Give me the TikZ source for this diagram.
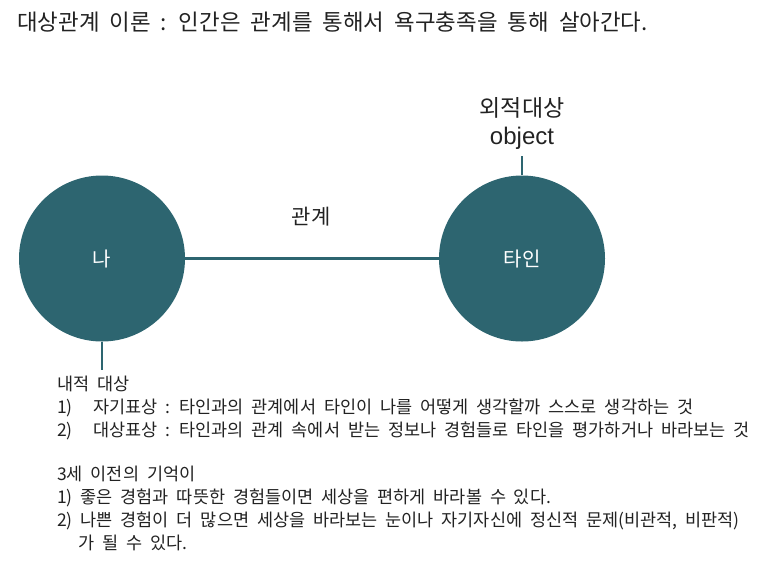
\documentclass[tikz,border=0pt]{standalone}
\usepackage{fontspec}
\setmainfont{Noto Sans CJK KR}
\newfontfamily\latinfont{Liberation Sans}
\definecolor{ink}{HTML}{222222}
\definecolor{slate}{HTML}{2D6570}
\newcommand{\widesp}{\spaceskip=0.45em plus 0.1em\relax}

\begin{document}
\begin{tikzpicture}[x=1pt,y=-1pt,text=ink,
  person/.style={circle,fill=slate,minimum size=166pt,inner sep=0pt,
    text=white,font=\fontsize{20}{22}\selectfont},
  link/.style={draw=slate,line width=2.5pt},
  body/.style={anchor=north west,align=left,inner sep=0pt,
    font=\fontsize{17.5}{23}\selectfont\widesp}]
  \useasboundingbox (0,0) rectangle (767,566);

  \node[anchor=west,inner sep=0pt,font=\fontsize{22.4}{26}\selectfont\widesp] (title) at (17,22)
    {대상관계 이론 : 인간은 관계를 통해서 욕구충족을 통해 살아간다.};

  % two persons and the relation between them
  \node[person] (na) at (102,258.5) {나};
  \node[person] (tain) at (522,258.5) {타인};
  \coordinate (outer) at (522,156);
  \coordinate (inner) at (102,370);
  \draw[link] (na.east) -- (tain.west);
  \draw[link] (tain.north) -- (outer);
  \draw[link] (na.south) -- (inner);

  \node[font=\fontsize{21}{24}\selectfont] (rel) at (311,217) {관계};
  \node[font=\fontsize{23}{26}\selectfont] (outerlbl) at (522,108) {외적대상};
  \node[font=\latinfont\fontsize{24}{28}\selectfont] (obj) at (522,138) {object};

  % notes below
  \node[body] (innerobj) at (57,376)
    {내적 대상\\
     \makebox[36pt][l]{1)}자기표상 : 타인과의 관계에서 타인이 나를 어떻게 생각할까 스스로 생각하는 것\\
     \makebox[36pt][l]{2)}대상표상 : 타인과의 관계 속에서 받는 정보나 경험들로 타인을 평가하거나 바라보는 것};
  \node[body] (memory) at (57,466)
    {3세 이전의 기억이\\
     1)\ 좋은 경험과 따뜻한 경험들이면 세상을 편하게 바라볼 수 있다.\\
     2) 나쁜 경험이 더 많으면 세상을 바라보는 눈이나 자기자신에 정신적 문제(비관적, 비판적)\\
     \hspace*{21pt}가 될 수 있다.};
\end{tikzpicture}
\end{document}
